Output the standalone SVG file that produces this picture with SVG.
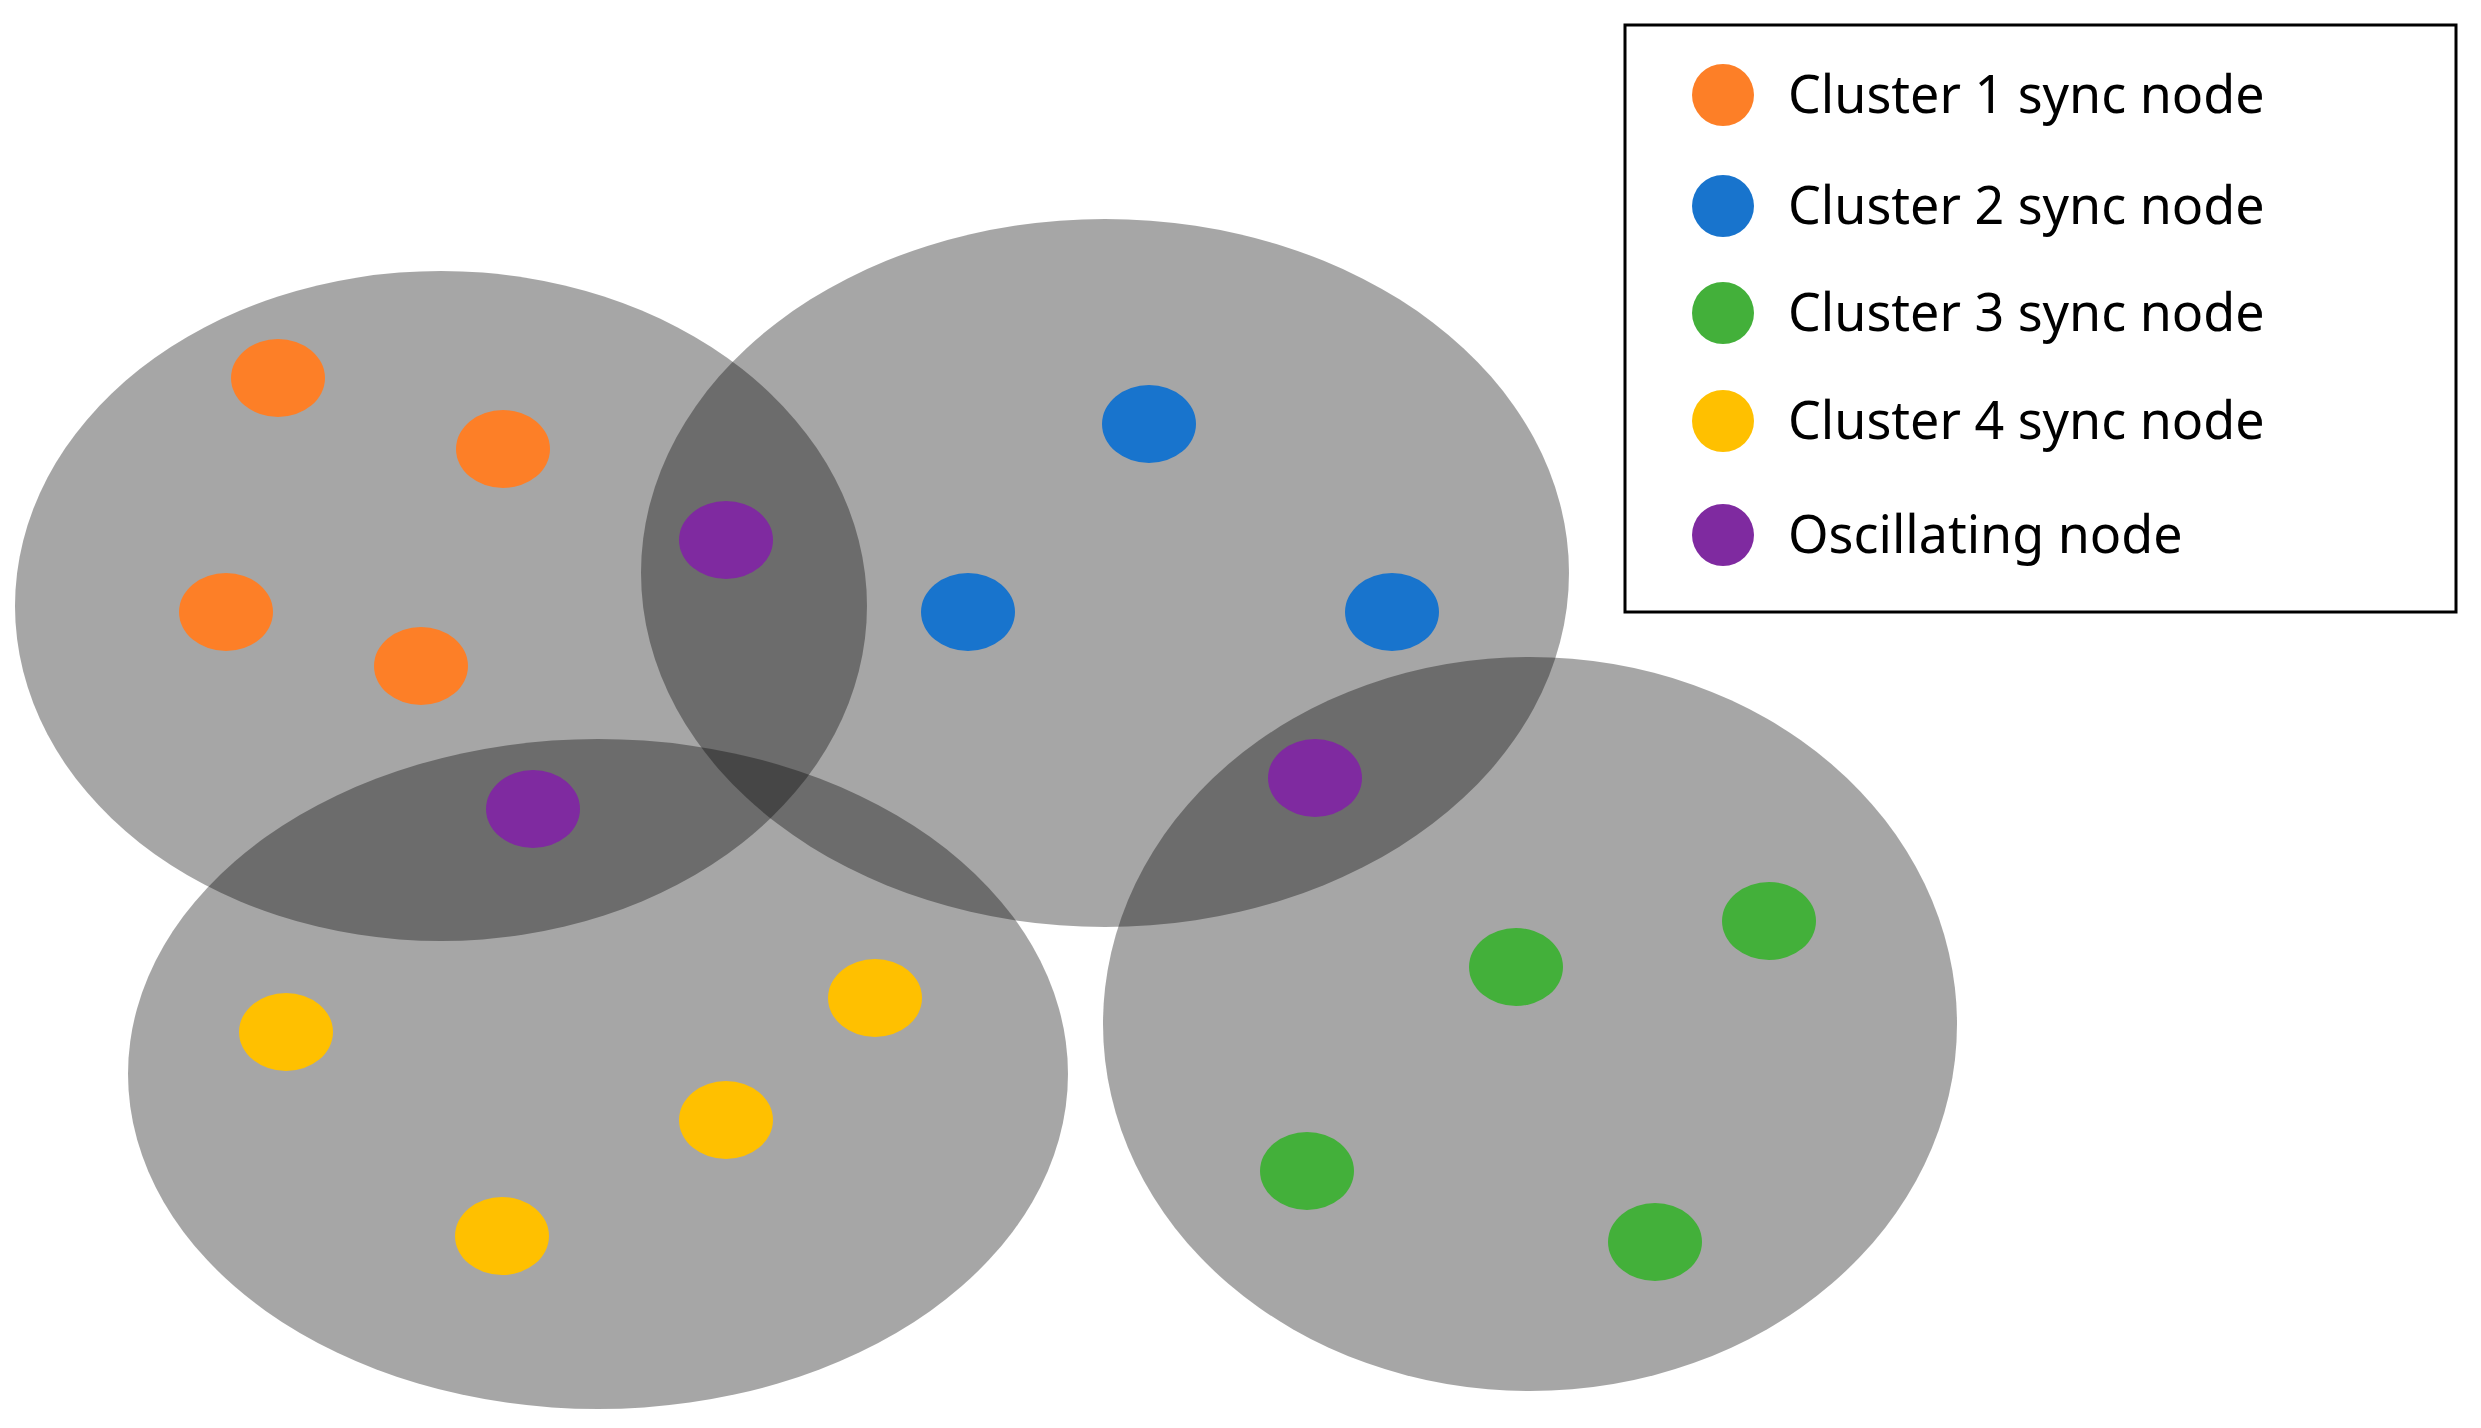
<svg xmlns="http://www.w3.org/2000/svg" width="2481" height="1428" viewBox="0 0 2481 1428">
<style>
.area{fill:#000;fill-opacity:0.35}
.o{fill:#fd7f27}.b{fill:#1874cd}.g{fill:#43b03a}.y{fill:#ffc000}.p{fill:#7f2aa0}
.lt{font-family:"Noto Sans","Liberation Sans",sans-serif;font-size:52px;fill:#000}
</style>
<rect width="2481" height="1428" fill="#fff"/>
<g id="clusters">
<ellipse id="cluster1" class="area" cx="441" cy="606" rx="426" ry="335"/>
<ellipse id="cluster2" class="area" cx="1105" cy="573" rx="464" ry="354"/>
<ellipse id="cluster4" class="area" cx="598" cy="1074" rx="470" ry="335"/>
<ellipse id="cluster3" class="area" cx="1530" cy="1024" rx="427" ry="367"/>
</g>
<g id="nodes">
<g id="orange"><ellipse class="o" cx="278" cy="378" rx="47" ry="39"/><ellipse class="o" cx="503" cy="449" rx="47" ry="39"/><ellipse class="o" cx="226" cy="612" rx="47" ry="39"/><ellipse class="o" cx="421" cy="666" rx="47" ry="39"/></g>
<g id="blue"><ellipse class="b" cx="1149" cy="424" rx="47" ry="39"/><ellipse class="b" cx="968" cy="612" rx="47" ry="39"/><ellipse class="b" cx="1392" cy="612" rx="47" ry="39"/></g>
<g id="purple"><ellipse class="p" cx="726" cy="540" rx="47" ry="39"/><ellipse class="p" cx="533" cy="809" rx="47" ry="39"/><ellipse class="p" cx="1315" cy="778" rx="47" ry="39"/></g>
<g id="yellow"><ellipse class="y" cx="286" cy="1032" rx="47" ry="39"/><ellipse class="y" cx="875" cy="998" rx="47" ry="39"/><ellipse class="y" cx="726" cy="1120" rx="47" ry="39"/><ellipse class="y" cx="502" cy="1236" rx="47" ry="39"/></g>
<g id="green"><ellipse class="g" cx="1516" cy="967" rx="47" ry="39"/><ellipse class="g" cx="1769" cy="921" rx="47" ry="39"/><ellipse class="g" cx="1307" cy="1171" rx="47" ry="39"/><ellipse class="g" cx="1655" cy="1242" rx="47" ry="39"/></g>
</g>
<g id="connectors"/>
<g id="legend">
<rect x="1625" y="25" width="831" height="587" fill="#fff" stroke="#000" stroke-width="3"/>
<circle class="o" cx="1723" cy="95" r="31"/><text class="lt" x="1788" y="113">Cluster 1 sync node</text>
<circle class="b" cx="1723" cy="206" r="31"/><text class="lt" x="1788" y="224">Cluster 2 sync node</text>
<circle class="g" cx="1723" cy="313" r="31"/><text class="lt" x="1788" y="331">Cluster 3 sync node</text>
<circle class="y" cx="1723" cy="421" r="31"/><text class="lt" x="1788" y="439">Cluster 4 sync node</text>
<circle class="p" cx="1723" cy="535" r="31"/><text class="lt" x="1788" y="553">Oscillating node</text>
</g>
</svg>
